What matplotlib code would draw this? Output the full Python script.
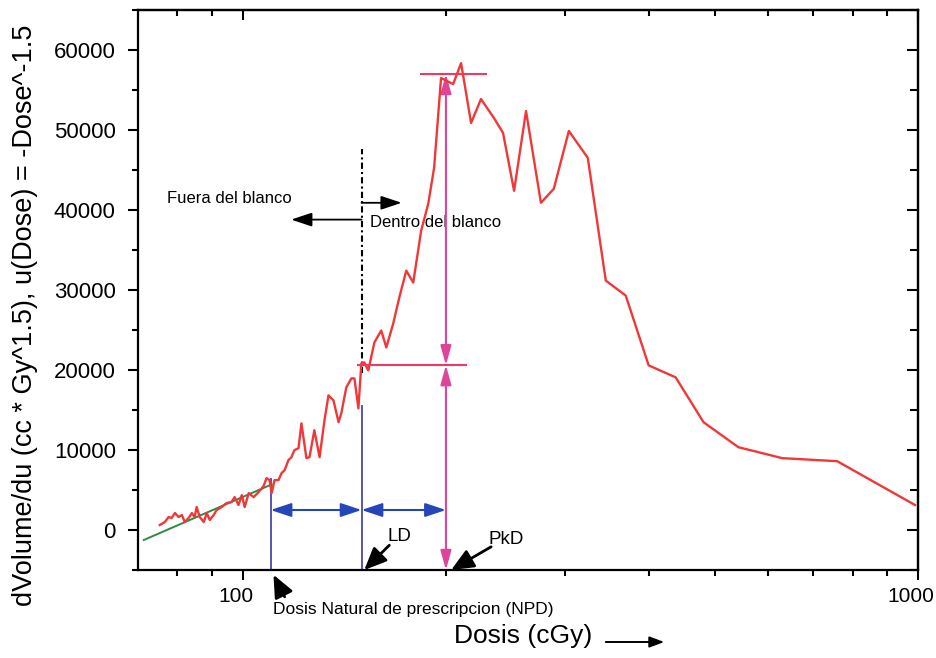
import matplotlib
matplotlib.use("Agg")
import matplotlib.pyplot as plt
from matplotlib.ticker import FixedLocator, MultipleLocator, NullFormatter, FuncFormatter
from matplotlib.transforms import ScaledTranslation

plt.rcParams['font.family'] = ['Liberation Sans', 'DejaVu Sans']

# ---- data ----
dose = [75.4, 76.7, 77.7, 78.5, 79.4, 80.4, 81.3, 82.1, 83.2, 84.1,
        84.9, 85.5, 86.4, 87.6, 88.5, 89.4, 90.6, 91.5, 93.1, 94.7,
        96.3, 97.3, 98.6, 99.7, 100.7, 102.1, 103.8, 105.6, 107.4, 108.5,
        109.6, 110.4, 111.5, 113.0, 114.2, 115.4, 116.9, 118.1, 119.3, 121.0,
        122.2, 124.3, 125.6, 127.7, 130.0, 132.2, 134.0, 136.3, 138.7, 140.0,
        142.4, 144.9, 146.4, 148.4, 149.9, 151.4, 153.5, 156.7, 160.4, 163.2,
        167.1, 170.6, 174.7, 178.9, 183.8, 188.3, 192.1, 196.7, 205.0,
        210.6, 217.9, 225.4, 235.6, 243.0, 252.3, 262.8, 276.5, 288.9, 304.1,
        324.4, 344.9, 369.2, 399.2, 437.7, 481.4, 542.1, 629.6, 759.2, 990.0]
dvdu = [620, 1000, 1620, 1500, 2120, 1620, 1870, 1000, 1500, 2120,
        1620, 2870, 1620, 1000, 2120, 1250, 1870, 2490, 2870, 3370,
        3490, 4110, 3120, 4360, 2870, 4610, 4110, 4740, 5490, 6480,
        6240, 4610, 6240, 6240, 7110, 7480, 8730, 9100, 9980, 10230,
        13340, 8980, 9100, 12470, 9100, 13720, 16830, 16210, 13470, 14590,
        17830, 18950, 18950, 15210, 20820, 20950, 19950, 23440, 24940, 22820,
        25810, 29060, 32420, 30930, 37410, 40780, 45270, 56490, 55740,
        58360, 50880, 53870, 51500, 49630, 42400, 52370, 40900, 42650, 49880,
        46510, 31180, 29300, 20580, 19080, 13470, 10350, 8980, 8600, 3120]

fit_dose = [71.4, 110.4]
fit_val = [-1250, 5700]

npd, ld, pkd = 110, 150, 200
level_low, level_peak = 20600, 57000

x_major = [100, 1000]
x_minor = [80, 90, 200, 300, 400, 500, 600, 700, 800, 900]

# ---- figure ----
fig = plt.figure(figsize=(9.36, 6.58), dpi=100)
ax = fig.add_axes([138/936, 88/658, 780/936, 560/658])
ax.set_xscale('log')
ax.set_xlim(70, 1000)
ax.set_ylim(-5000, 65000)

ax.xaxis.set_major_locator(FixedLocator(x_major))
ax.xaxis.set_minor_locator(FixedLocator(x_minor))
ax.xaxis.set_major_formatter(FuncFormatter(lambda v, p: f"{v:.0f}"))
ax.xaxis.set_minor_formatter(NullFormatter())
ax.yaxis.set_major_locator(MultipleLocator(10000))
ax.yaxis.set_minor_locator(MultipleLocator(5000))
ax.yaxis.set_major_formatter(FuncFormatter(lambda v, p: f"{v:.0f}"))

for s in ax.spines.values():
    s.set_linewidth(1.6)
ax.tick_params(which='major', direction='out', length=7, width=1.5, labelsize=16, pad=5)
ax.tick_params(axis='x', which='major', labelsize=15)
ax.tick_params(axis='y', which='major', pad=9)
ax.tick_params(which='minor', direction='out', length=4.5, width=1.5)
shift = ScaledTranslation(-7/100, 0, fig.dpi_scale_trans)
for lab in ax.get_xticklabels():
    lab.set_transform(lab.get_transform() + shift)

secx = ax.secondary_xaxis('top')
secx.xaxis.set_major_locator(FixedLocator(x_major))
secx.xaxis.set_minor_locator(FixedLocator(x_minor))
secx.tick_params(which='both', direction='in', labeltop=False, width=1.5)
secx.tick_params(which='major', length=7)
secx.tick_params(which='minor', length=4.5)
secx.spines['top'].set_linewidth(1.6)

secy = ax.secondary_yaxis('right')
secy.yaxis.set_major_locator(MultipleLocator(10000))
secy.yaxis.set_minor_locator(MultipleLocator(5000))
secy.tick_params(which='both', direction='in', labelright=False, width=1.5)
secy.tick_params(which='major', length=8)
secy.tick_params(which='minor', length=6)
secy.spines['right'].set_linewidth(1.6)

# curve and fit
ax.plot(dose, dvdu, color='#f03838', lw=1.7, zorder=4)
ax.plot(fit_dose, fit_val, color='#2e8a44', lw=1.4, zorder=3)

# blue verticals and double arrows
blue_v = '#5656b0'
blue_a = '#2446b8'
ax.plot([npd, npd], [-5000, 6400], color=blue_v, lw=1.4, zorder=2)
ax.plot([ld, ld], [-5000, 15500], color=blue_v, lw=1.4, zorder=2)
dbl = dict(arrowstyle='<|-|>,head_length=0.9,head_width=0.3', color=blue_a, lw=1.5,
           mutation_scale=14, shrinkA=0, shrinkB=0)
ax.annotate('', xy=(npd, 2500), xytext=(ld, 2500), arrowprops=dbl)
ax.annotate('', xy=(ld, 2500), xytext=(pkd, 2500), arrowprops=dbl)

# dash-dot LD boundary and region arrows
ax.plot([ld, ld], [19600, 47600], color='black', lw=1.5, ls=(0, (3, 1.5, 1, 1.5)), zorder=3)
blk = dict(arrowstyle='-|>,head_length=0.9,head_width=0.3', color='black', lw=1.3,
           mutation_scale=14, shrinkA=0, shrinkB=0)
ax.annotate('', xy=(118, 38800), xytext=(ld, 38800), arrowprops=blk)
ax.annotate('', xy=(172, 40900), xytext=(ld, 40900), arrowprops=blk)
ax.text(77.2, 41400, 'Fuera del blanco', fontsize=12, ha='left', va='center')
ax.text(154.5, 38400, 'Dentro del blanco', fontsize=12, ha='left', va='center')

# pink level lines and magenta arrows
pink = '#ee3a5e'
mag = '#e0449a'
ax.plot([183.8, 229.3], [level_peak, level_peak], color=pink, lw=1.5, zorder=5)
ax.plot([148.4, 214.2], [level_low, level_low], color=pink, lw=1.5, zorder=5)
mdbl = dict(arrowstyle='<|-|>,head_length=0.9,head_width=0.25', color=mag, lw=1.5,
            mutation_scale=13, shrinkA=0, shrinkB=0)
ax.annotate('', xy=(pkd, level_peak), xytext=(pkd, level_low), arrowprops=mdbl)
ax.annotate('', xy=(pkd, level_low), xytext=(pkd, -5000), arrowprops=mdbl, annotation_clip=False)

# LD / PkD / NPD labels
bold_arrow = dict(arrowstyle='-|>,head_length=0.8,head_width=0.35', color='black', lw=2.0,
                  mutation_scale=17, shrinkA=0, shrinkB=0)
ax.text(170.6, -870, 'LD', fontsize=13.5, ha='center', va='center')
ax.annotate('', xy=(151.4, -5000), xytext=(164.9, -1900), arrowprops=bold_arrow, annotation_clip=False)
ax.text(245.5, -1250, 'PkD', fontsize=13.5, ha='center', va='center')
ax.annotate('', xy=(203.6, -5000), xytext=(233.3, -2100), arrowprops=bold_arrow, annotation_clip=False)
ax.text(111.1, -9980, 'Dosis Natural de prescripcion (NPD)', fontsize=12.5,
        ha='left', va='center', clip_on=False)
ax.annotate('', xy=(111.1, -5600), xytext=(115.4, -8350), arrowprops=bold_arrow, annotation_clip=False)

# axis titles
fig.text(25/936, 1 - 315/658, 'dVolume/du (cc * Gy^1.5), u(Dose) = -Dose^-1.5',
         rotation=90, ha='center', va='center', fontsize=19.5)
fig.text(523/936, 1 - 636/658, 'Dosis (cGy)', ha='center', va='center', fontsize=19)
fig.patches.append(matplotlib.patches.FancyArrowPatch(
    (603/936, 1 - 642/658), (667/936, 1 - 642/658), transform=fig.transFigure,
    arrowstyle='-|>,head_length=0.8,head_width=0.3', mutation_scale=11, lw=1.4, color='black'))

fig.savefig('out.png', dpi=100)
